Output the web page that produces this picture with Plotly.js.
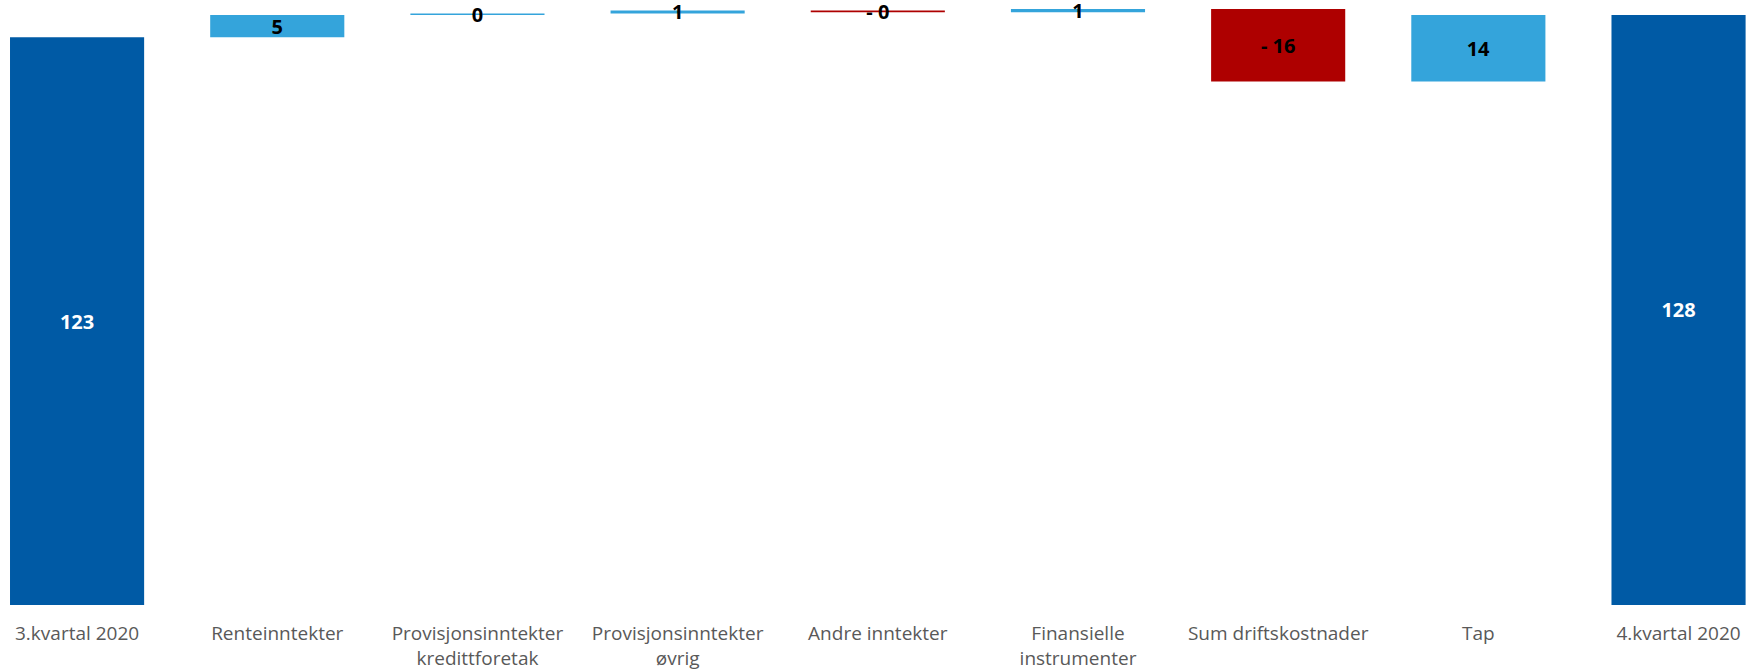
<!DOCTYPE html>
<html>
<head>
<meta charset="utf-8">
<script src="https://cdn.plot.ly/plotly-3.0.1.min.js"></script>
<style>html,body{margin:0;padding:0;background:#fff;}#chart{width:1748px;height:672px;}</style>
</head>
<body>
<div id="chart"></div>
<script>
const categories = ["3.kvartal 2020", "Renteinntekter", "Provisjonsinntekter<br>kredittforetak", "Provisjonsinntekter<br>øvrig", "Andre inntekter", "Finansielle<br>instrumenter", "Sum driftskostnader", "Tap", "4.kvartal 2020"];
const values = [123.1, 4.8, 0.3, 0.7, -0.4, 0.7, -15.7, 14.4, 127.9];
const measures = ["absolute", "relative", "relative", "relative", "relative", "relative", "relative", "relative", "absolute"];

const labels = values.map(v => (v < 0 ? "- " : "") + Math.round(Math.abs(v)));
const textColors = measures.map(m => m === "absolute" ? "#ffffff" : "#000000");

const trace = {
  type: "waterfall",
  x: categories,
  y: values,
  measure: measures,
  text: labels,
  textinfo: "text",
  textposition: "inside",
  insidetextanchor: "middle",
  constraintext: "none",
  textangle: 0,
  textfont: {family: "Open Sans, sans-serif", size: 20, color: textColors, weight: "bold"},
  insidetextfont: {family: "Open Sans, sans-serif", size: 20, color: textColors, weight: "bold"},
  increasing: {marker: {color: "#34A4DB", line: {width: 0}}},
  decreasing: {marker: {color: "#AE0000", line: {width: 0}}},
  totals: {marker: {color: "#005AA5", line: {width: 0}}},
  connector: {visible: false},
  hoverinfo: "none",
  cliponaxis: false
};

const layout = {
  width: 1748,
  height: 672,
  margin: {l: 0, r: 0, t: 0, b: 67},
  paper_bgcolor: "#ffffff",
  plot_bgcolor: "#ffffff",
  showlegend: false,
  waterfallgap: 0.33,
  xaxis: {
    type: "category",
    range: [-0.385, 8.347],
    showgrid: false,
    zeroline: false,
    showline: false,
    ticks: "",
    ticklabelstandoff: 15,
    tickfont: {family: "Open Sans, sans-serif", size: 19, color: "#595959"}
  },
  yaxis: {
    range: [0, 131.15],
    showgrid: false,
    zeroline: false,
    showline: false,
    showticklabels: false,
    ticks: ""
  }
};

Plotly.newPlot("chart", [trace], layout, {staticPlot: true, displayModeBar: false});
</script>
</body>
</html>
